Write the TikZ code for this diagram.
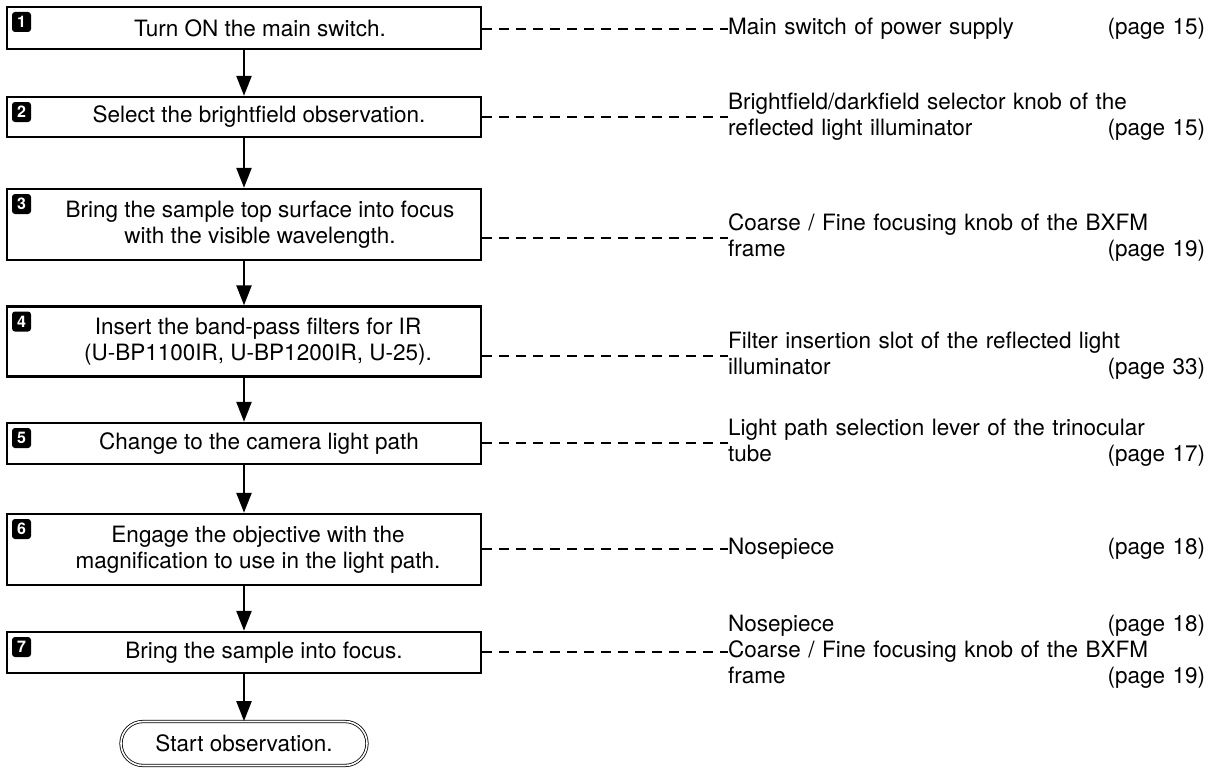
\documentclass[tikz,border=0pt]{standalone}
\usepackage{fontspec}
\setmainfont{TeX Gyre Heros}
\usetikzlibrary{arrows.meta,positioning,shapes.misc,calc}

% page reference pushed to the right margin of a note
\newcommand{\pg}[1]{\hspace{0pt plus 1filll}(page #1)}

\begin{document}
\begin{tikzpicture}[
    x=1pt, y=-1pt,
    font=\fontsize{22.5}{26}\selectfont,
    stepbox/.style={
        rectangle, draw=black, line width=2.4pt, fill=white,
        minimum width=474pt, inner sep=0pt
    },
    stepnum/.style={
        rectangle, rounded corners=3pt, fill=black, text=white,
        font=\fontsize{16}{16}\selectfont\bfseries,
        minimum width=19pt, minimum height=20pt, inner sep=0pt, anchor=north west
    },
    steptext/.style={align=center, inner sep=0pt},
    partnote/.style={
        anchor=west, text width=477pt, align=left, inner sep=0pt,
        font=\fontsize{22.5}{26}\selectfont
    },
    flowArrow/.style={
        -{Triangle[length=20pt, width=15pt]}, line width=2.4pt
    },
    leader/.style={
        line width=2pt, dash pattern=on 10pt off 7pt
    },
    startbox/.style={
        rounded rectangle, draw=black, line width=0.8pt, double, double distance=1.6pt,
        minimum width=246pt, minimum height=44pt, inner sep=0pt
    }
]
\useasboundingbox (0,0) rectangle (1208,776);

% Step boxes
\node[stepbox, minimum height=42pt] (s1) at (244, 28) {};
\node[stepbox, minimum height=40pt] (s2) at (244, 117) {};
\node[stepbox, minimum height=71pt] (s3) at (244, 224.5) {};
\node[stepbox, minimum height=70pt] (s4) at (244, 341.5) {};
\node[stepbox, minimum height=41pt] (s5) at (244, 443.5) {};
\node[stepbox, minimum height=71pt] (s6) at (244, 549.5) {};
\node[stepbox, minimum height=41pt] (s7) at (244, 652.5) {};

% Step numbers
\node[stepnum] (n1) at ($(s1.north west)+(6,6)$) {1};
\node[stepnum] (n2) at ($(s2.north west)+(6,6)$) {2};
\node[stepnum] (n3) at ($(s3.north west)+(6,6)$) {3};
\node[stepnum] (n4) at ($(s4.north west)+(6,6)$) {4};
\node[stepnum] (n5) at ($(s5.north west)+(6,6)$) {5};
\node[stepnum] (n6) at ($(s6.north west)+(6,6)$) {6};
\node[stepnum] (n7) at ($(s7.north west)+(6,6)$) {7};

% Step texts
\node[steptext] (t1) at (260, 28) {Turn ON the main switch.};
\node[steptext] (t2) at (259, 117) {Select the brightfield observation.};
\node[steptext] (t3) at (260, 224.5) {Bring the sample top surface into focus\\with the visible wavelength.};
\node[steptext] (t4) at (258, 341.5) {Insert the band-pass filters for IR\\(U-BP1100IR, U-BP1200IR, U-25).};
\node[steptext] (t5) at (259, 443.5) {Change to the camera light path};
\node[steptext] (t6) at (258, 549.5) {Engage the objective with the\\magnification to use in the light path.};
\node[steptext] (t7) at (264, 652.5) {Bring the sample into focus.};

% Final step
\node[startbox] (go) at (244, 743.5) {Start observation.};

% Flow arrows
\draw[flowArrow] (s1.south) -- (s2.north);
\draw[flowArrow] (s2.south) -- (s3.north);
\draw[flowArrow] (s3.south) -- (s4.north);
\draw[flowArrow] (s4.south) -- (s5.north);
\draw[flowArrow] (s5.south) -- (s6.north);
\draw[flowArrow] (s6.south) -- (s7.north);
\draw[flowArrow] (s7.south) -- (go.north);

% Part notes
\node[partnote] (r1) at (728, 29) {Main switch of power supply\pg{15}};
\node[partnote] (r2) at (728, 117) {Brightfield/darkfield selector knob of the\\reflected light illuminator\pg{15}};
\node[partnote] (r3) at (728, 238) {Coarse / Fine focusing knob of the BXFM\\frame\pg{19}};
\node[partnote] (r4) at (728, 356) {Filter insertion slot of the reflected light\\illuminator\pg{33}};
\node[partnote] (r5) at (728, 443) {Light path selection lever of the trinocular\\tube\pg{17}};
\node[partnote] (r6) at (728, 549) {Nosepiece\pg{18}};
\node[partnote] (r7) at (728, 652) {Nosepiece\pg{18}\\Coarse / Fine focusing knob of the BXFM\\frame\pg{19}};

% Leaders from steps to notes
\draw[leader] (r1.west -| s1.east) -- (r1.west);
\draw[leader] (r2.west -| s2.east) -- (r2.west);
\draw[leader] (r3.west -| s3.east) -- (r3.west);
\draw[leader] (r4.west -| s4.east) -- (r4.west);
\draw[leader] (r5.west -| s5.east) -- (r5.west);
\draw[leader] (r6.west -| s6.east) -- (r6.west);
\draw[leader] (r7.west -| s7.east) -- (r7.west);

\end{tikzpicture}
\end{document}
